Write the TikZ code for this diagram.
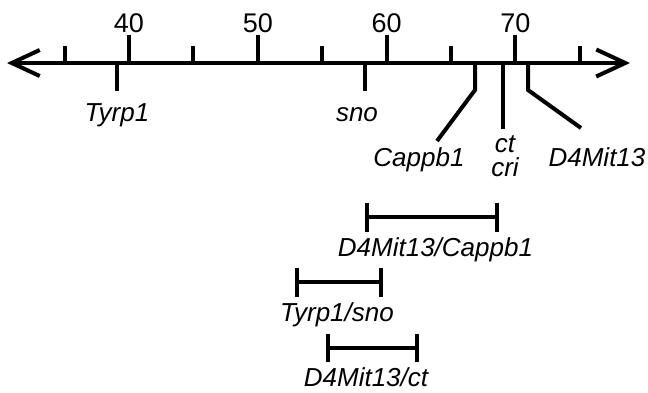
\documentclass[tikz,border=0pt]{standalone}
\usepackage{fontspec}
\setmainfont{Liberation Sans}
\usetikzlibrary{arrows.meta}
\begin{document}
\begin{tikzpicture}[x=1pt,y=-1pt,line width=4pt,
  lbl/.style={font=\fontsize{26}{28}\selectfont\itshape,anchor=base,inner sep=0pt},
  num/.style={font=\fontsize{27}{29}\selectfont,anchor=base,inner sep=0pt}]
\useasboundingbox (0,0) rectangle (648,392);
% axis
\coordinate (L) at (7,63);
\coordinate (R) at (630,63);
\draw[{Straight Barb[length=28pt,width=26pt]}-{Straight Barb[length=29pt,width=27pt]}] (L) -- (R);
% major ticks and numbers
\foreach \v in {40,50,60,70}{
  \pgfmathsetmacro{\px}{129+(\v-40)*12.88}
  \draw (\px,63) -- (\px,35);
  \node[num] (n\v) at (\px,32) {\v};
}
% minor ticks
\foreach \v in {35,45,55,65,75}{
  \pgfmathsetmacro{\px}{129+(\v-40)*12.88}
  \draw (\px,63) -- (\px,46);
}
% marker labels
\node[lbl] (tyrp) at (117,121) {Tyrp1};
\node[lbl] (sno) at (357,121) {sno};
\node[lbl] (cappb) at (419,166) {Cappb1};
\node[lbl] (ct) at (505,152) {ct};
\node[lbl] (cri) at (505,176) {cri};
\node[lbl] (dmit) at (597,166) {D4Mit13};
% marker lines
\coordinate (t0) at (117,63); \coordinate (t1) at (117,91);
\coordinate (s0) at (365,63); \coordinate (s1) at (365,91);
\coordinate (c0) at (475,63); \coordinate (c1) at (475,90); \coordinate (c2) at (437,141);
\coordinate (k0) at (503,63); \coordinate (k1) at (503,129);
\coordinate (d0) at (528,63); \coordinate (d1) at (528,90); \coordinate (d2) at (581,128);
\draw (t0) -- (t1);
\draw (s0) -- (s1);
\draw (c0) -- (c1) -- (c2);
\draw (k0) -- (k1);
\draw (d0) -- (d1) -- (d2);
% intervals
\coordinate (a0) at (367,217); \coordinate (a1) at (497,217);
\coordinate (b0) at (297,282); \coordinate (b1) at (381,282);
\coordinate (e0) at (328,348); \coordinate (e1) at (417,348);
\draw (a0) -- (a1);
\draw (a0) ++(0,-14.5) -- ++(0,29);
\draw (a1) ++(0,-14.5) -- ++(0,29);
\draw (b0) -- (b1);
\draw (b0) ++(0,-14.5) -- ++(0,29);
\draw (b1) ++(0,-14.5) -- ++(0,29);
\draw (e0) -- (e1);
\draw (e0) ++(0,-14) -- ++(0,28);
\draw (e1) ++(0,-14) -- ++(0,28);
\node[lbl] (la) at (435.5,256) {D4Mit13/Cappb1};
\node[lbl] (lb) at (337,321) {Tyrp1/sno};
\node[lbl] (le) at (366,386) {D4Mit13/ct};
\end{tikzpicture}
\end{document}
